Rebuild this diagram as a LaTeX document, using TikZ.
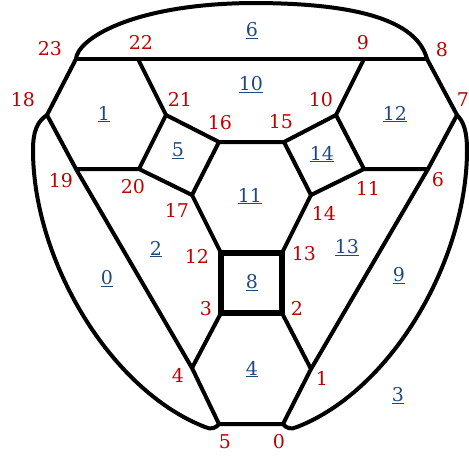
\documentclass[tikz,border=0pt]{standalone}
\usepackage{fontspec}
\setmainfont{DejaVu Serif}
\definecolor{vred}{HTML}{C00000}
\definecolor{fblue}{HTML}{1F497D}
\begin{document}
\begin{tikzpicture}[x=1pt,y=-1pt,
  edge/.style={line width=4pt,line join=round,line cap=round},
  thick8/.style={line width=5.6pt,line join=miter},
  vlab/.style={text=vred,font=\fontsize{19}{19}\selectfont,inner sep=0pt},
  flab/.style={text=fblue,font=\fontsize{19}{19}\selectfont,inner sep=0pt}]
\useasboundingbox (0,0) rectangle (469,461);
% vertices
\coordinate (v0) at (283,424);
\coordinate (v1) at (311,369);
\coordinate (v2) at (282,313);
\coordinate (v3) at (221,313);
\coordinate (v4) at (192,368);
\coordinate (v5) at (219,424);
\coordinate (v6) at (428,169);
\coordinate (v7) at (457,115);
\coordinate (v8) at (427,59);
\coordinate (v9) at (364,59);
\coordinate (v10) at (336,115);
\coordinate (v11) at (364,169);
\coordinate (v12) at (221,253);
\coordinate (v13) at (282,253);
\coordinate (v14) at (311,195);
\coordinate (v15) at (284,142);
\coordinate (v16) at (219,142);
\coordinate (v17) at (192,195);
\coordinate (v18) at (47,115);
\coordinate (v19) at (76,169);
\coordinate (v20) at (139,169);
\coordinate (v21) at (166,115);
\coordinate (v22) at (138,59);
\coordinate (v23) at (76,59);
% outer arcs
\draw[edge] (v23) .. controls (77,40) and (130,4) .. (252,3)
                  .. controls (370,3) and (418,25) .. (v8);
\draw[edge] (v18) .. controls (38,121) and (33,130) .. (33,150)
                  .. controls (33,260) and (110,390) .. (205,427)
                  .. controls (211,430) and (216,428) .. (v5);
\draw[edge] (v7) .. controls (463,121) and (467,130) .. (467,150)
                 .. controls (467,260) and (392,390) .. (297,427)
                 .. controls (291,430) and (286,428) .. (v0);
% straight edges
\draw[edge] (v23) -- (v22) -- (v9) -- (v8);
\draw[edge] (v23) -- (v18) -- (v19) -- (v4) -- (v5) -- (v0) -- (v1) -- (v6) -- (v7) -- (v8);
\draw[edge] (v19) -- (v20) -- (v21) -- (v22);
\draw[edge] (v21) -- (v16) -- (v15) -- (v10) -- (v9);
\draw[edge] (v10) -- (v11) -- (v6);
\draw[edge] (v20) -- (v17) -- (v16);
\draw[edge] (v15) -- (v14) -- (v11);
\draw[edge] (v17) -- (v12);
\draw[edge] (v14) -- (v13);
\draw[edge] (v3) -- (v4);
\draw[edge] (v2) -- (v1);
\draw[thick8] (v12) -- (v13) -- (v2) -- (v3) -- cycle;
% vertex labels
\node[vlab] (l0) at (279,442) {0};
\node[vlab] (l1) at (322,378) {1};
\node[vlab] (l2) at (297,308) {2};
\node[vlab] (l3) at (206,309) {3};
\node[vlab] (l4) at (178,375) {4};
\node[vlab] (l5) at (225,442) {5};
\node[vlab] (l6) at (438,180) {6};
\node[vlab] (l7) at (463,100) {7};
\node[vlab] (l8) at (442,50) {8};
\node[vlab] (l9) at (363,43) {9};
\node[vlab] (l10) at (321,100) {10};
\node[vlab] (l11) at (368,188) {11};
\node[vlab] (l12) at (197,256) {12};
\node[vlab] (l13) at (304,254) {13};
\node[vlab] (l14) at (324,213) {14};
\node[vlab] (l15) at (281,122) {15};
\node[vlab] (l16) at (220,123) {16};
\node[vlab] (l17) at (177,210) {17};
\node[vlab] (l18) at (23,100) {18};
\node[vlab] (l19) at (61,181) {19};
\node[vlab] (l20) at (133,187) {20};
\node[vlab] (l21) at (180,99) {21};
\node[vlab] (l22) at (141,42) {22};
\node[vlab] (l23) at (50,49) {23};
% face labels
\node[flab] (f0) at (107,279) {\underline{0}};
\node[flab] (f1) at (104,114) {\underline{1}};
\node[flab] (f2) at (156,249) {\underline{2}};
\node[flab] (f3) at (398,396) {\underline{3}};
\node[flab] (f4) at (252,369) {\underline{4}};
\node[flab] (f5) at (178,151) {\underline{5}};
\node[flab] (f6) at (252,31) {\underline{6}};
\node[flab] (f8) at (252,283) {\underline{8}};
\node[flab] (f9) at (399,276) {\underline{9}};
\node[flab] (f10) at (251,85) {\underline{10}};
\node[flab] (f11) at (250,196) {\underline{11}};
\node[flab] (f12) at (395,114) {\underline{12}};
\node[flab] (f13) at (347,248) {\underline{13}};
\node[flab] (f14) at (322,154) {\underline{14}};
\end{tikzpicture}
\end{document}
